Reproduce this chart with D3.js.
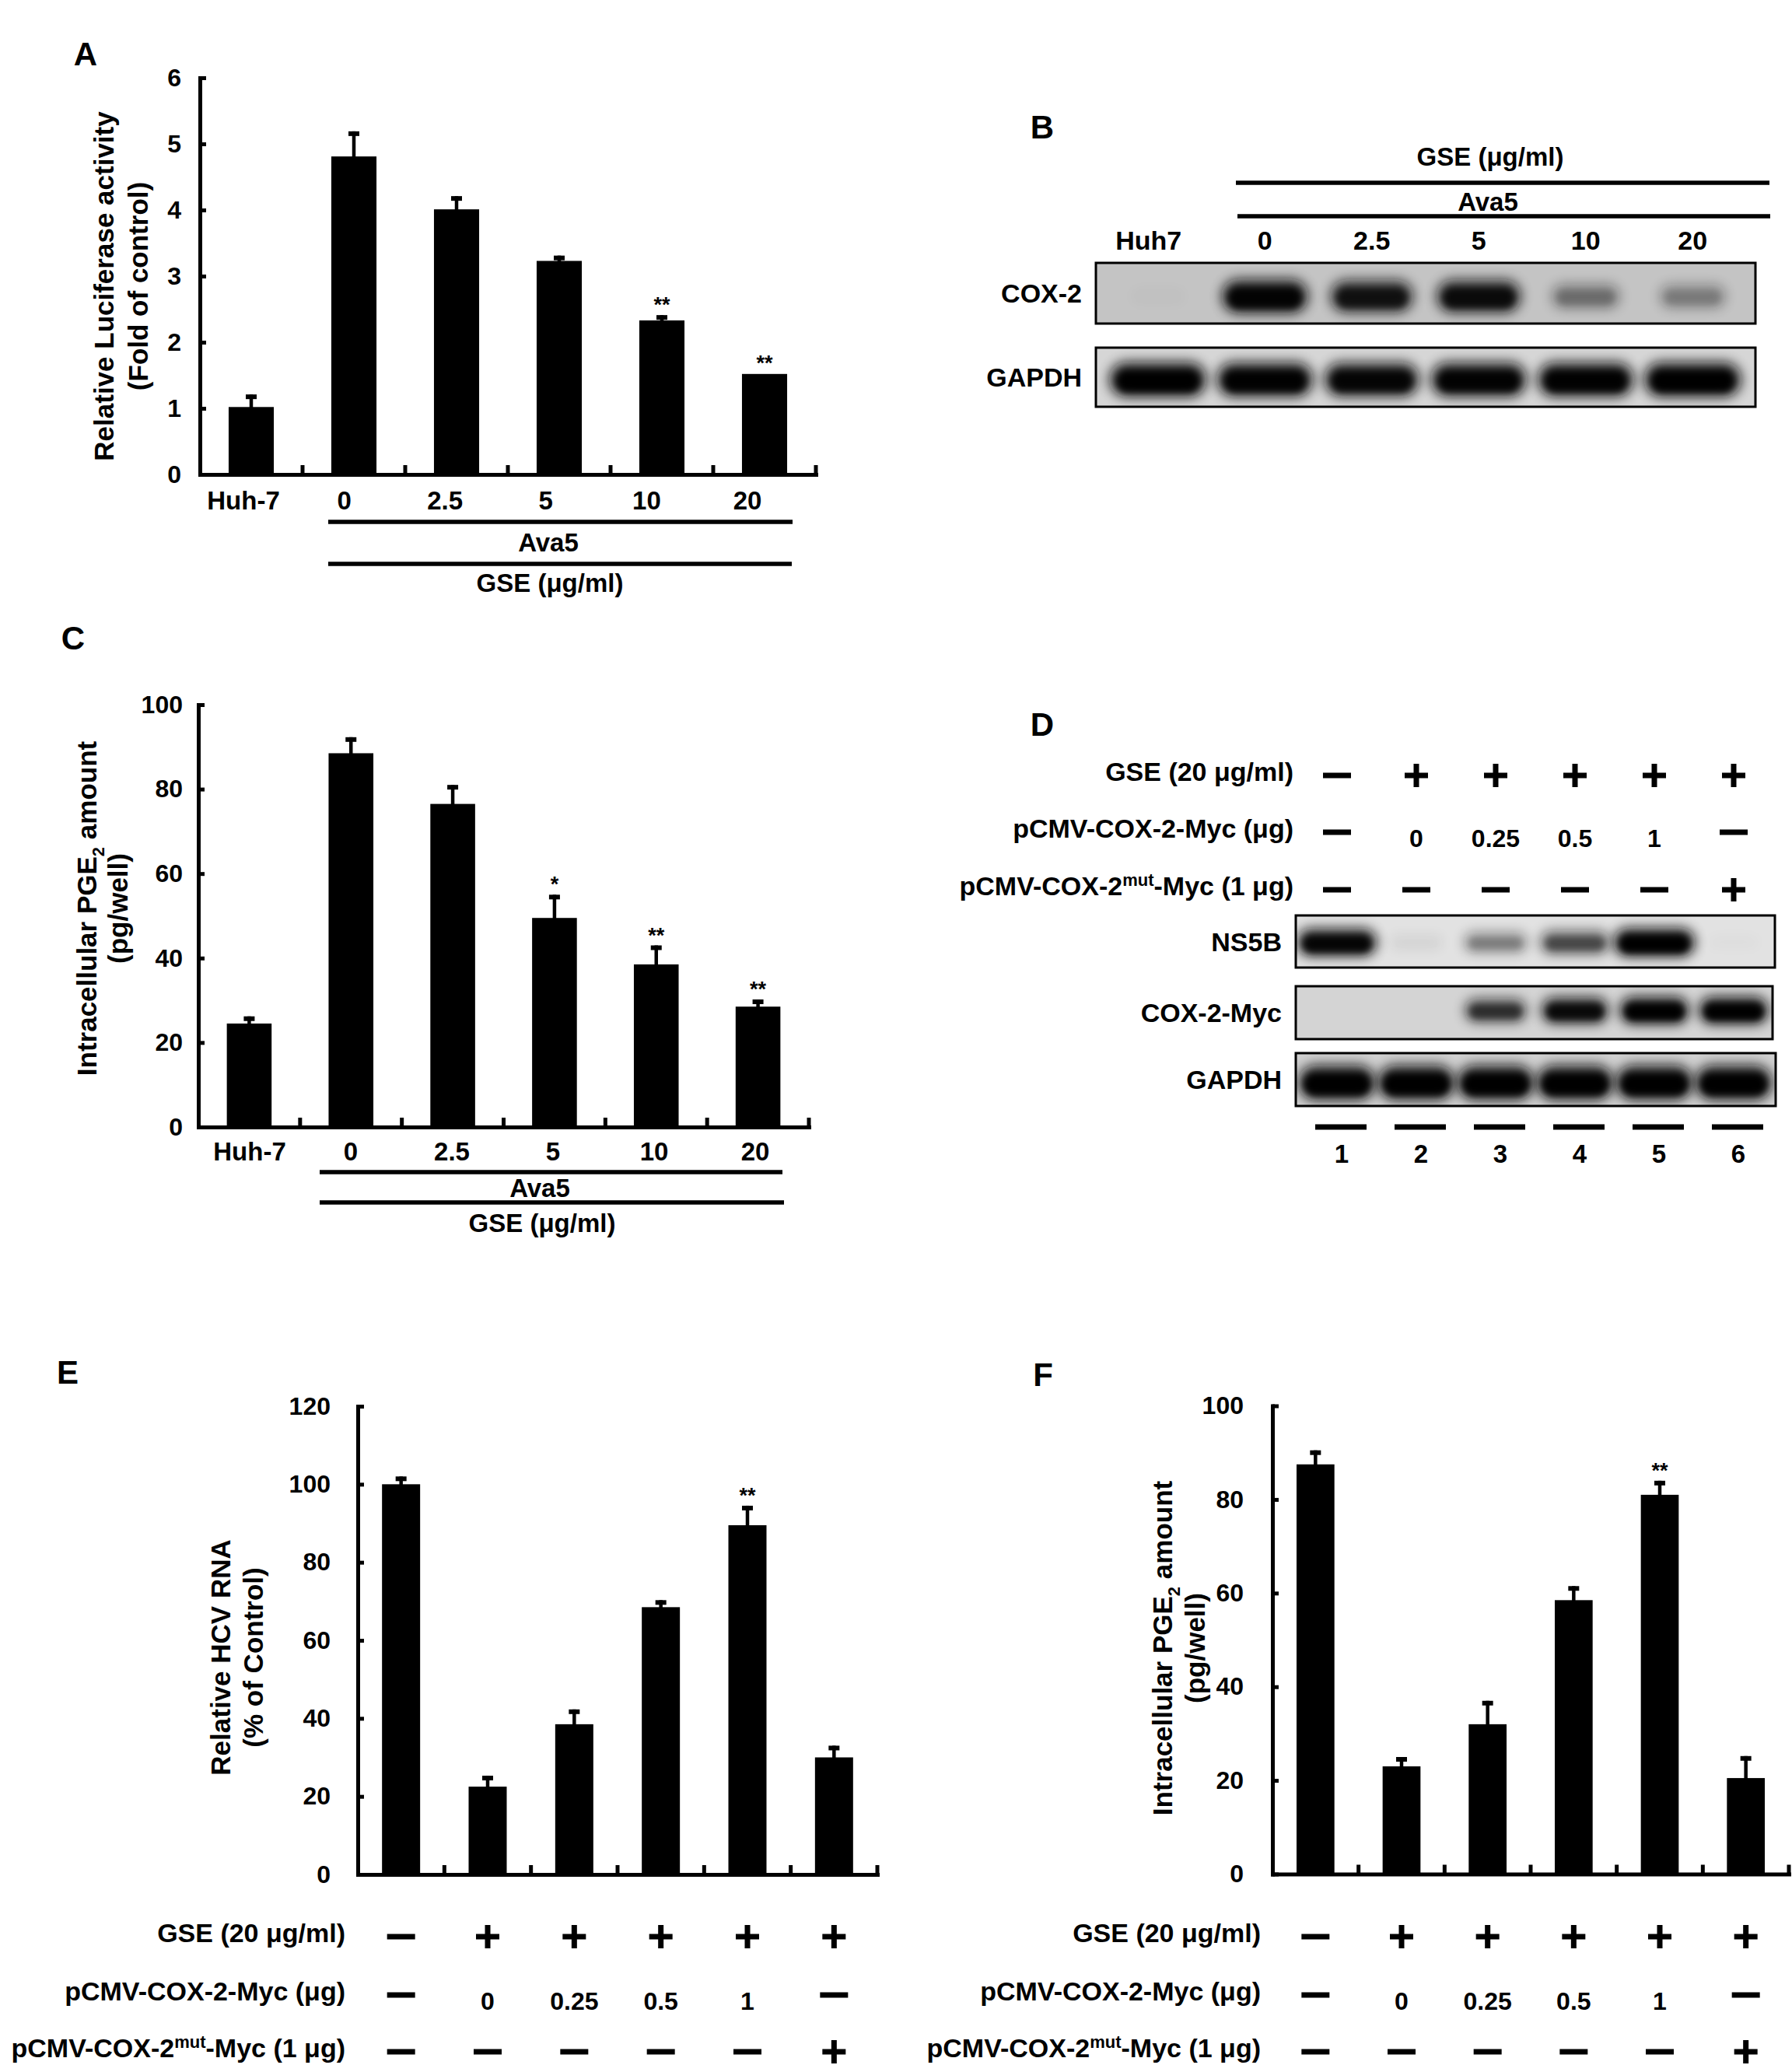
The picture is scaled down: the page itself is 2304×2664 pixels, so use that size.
<!DOCTYPE html>
<html>
<head>
<meta charset="utf-8">
<script src="https://cdn.jsdelivr.net/npm/d3@7"></script>
<style>
body{margin:0;background:#fff;}
svg text{font-family:"Liberation Sans",Arial,Helvetica,sans-serif;font-weight:bold;fill:#000;}
</style>
</head>
<body>
<div id="idFigure"></div>
<script>
// panel A / C categories
var aDoseCats=["Huh-7","0","2.5","5","10","20"];

var aLucMean=[1.02,4.81,4.01,3.23,2.33,1.52];
var aLucErr=[0.19,0.38,0.20,0.08,0.08,0.01];
var aLucSig=["","","","","**","**"];
var aLucTicks=[0,1,2,3,4,5,6];

var aPgeMean=[24.5,88.5,76.5,49.5,38.5,28.5];
var aPgeErr=[1.7,3.8,4.5,5.5,4.5,1.7];
var aPgeSig=["","","","*","**","**"];
var aPgeTicks=[0,20,40,60,80,100];

// panel E / F lanes
var aRescueCats=["1","2","3","4","5","6"];

var aHcvMean=[100,22.5,38.5,68.5,89.5,30];
var aHcvErr=[2,2.8,3.8,1.8,5,3];
var aHcvSig=["","","","","**",""];
var aHcvTicks=[0,20,40,60,80,100,120];

var aRescuePgeMean=[87.5,23,32,58.5,81,20.5];
var aRescuePgeErr=[3,2,5,3,3,4.7];
var aRescuePgeSig=["","","","","**",""];
var aRescuePgeTicks=[0,20,40,60,80,100];

// treatment rows (D, E, F)
var aGseRow=["-","+","+","+","+","+"];
var aCoxRow=["-","0","0.25","0.5","1","-"];
var aMutRow=["-","-","-","-","-","+"];
var aRowLabels=[
	[{s:"GSE (20 μg/ml)"}],
	[{s:"pCMV-COX-2-Myc (μg)"}],
	[{s:"pCMV-COX-2"},{s:"mut",sup:true},{s:"-Myc (1 μg)"}]
];

// blots, band intensity 0..1
var aBlotBLanes=["Huh7","0","2.5","5","10","20"];
var aBlotBCox2=[0.02,0.96,0.86,0.9,0.42,0.36];
var aBlotBGapdh=[1,0.98,0.95,0.97,0.98,1];

var aBlotDLanes=["1","2","3","4","5","6"];
var aBlotDNs5b=[0.95,0.07,0.42,0.62,1,0.02];
var aBlotDCoxMyc=[0,0,0.72,0.92,1,1];
var aBlotDGapdh=[1,1,1,1,1,1];

var iWidth=2304;
var iHeight=2664;

var myCanvas=d3.select("#idFigure").append("svg")
	.attr("width",iWidth)
	.attr("height",iHeight);
var myDefs=myCanvas.append("defs");

myDefs.append("filter").attr("id","idBandBlur")
	.attr("x","-40%").attr("y","-80%").attr("width","180%").attr("height","260%")
	.append("feGaussianBlur").attr("stdDeviation",7.5);
myDefs.append("filter").attr("id","idCoreBlur")
	.attr("x","-40%").attr("y","-80%").attr("width","180%").attr("height","260%")
	.append("feGaussianBlur").attr("stdDeviation",4);

function AppendSegments(myText,aSegs,iSize)
{
	var iShift=0;
	aSegs.forEach(function(oSeg){
		var myT=myText.append("tspan").text(oSeg.s);
		var iTarget=0;
		if(oSeg.sub) iTarget=Math.round(iSize*0.28);
		if(oSeg.sup) iTarget=-Math.round(iSize*0.34);
		if(iTarget!=iShift) myT.attr("dy",iTarget-iShift);
		if(oSeg.sub||oSeg.sup) myT.attr("font-size",Math.round(iSize*0.64));
		iShift=iTarget;
	});
}

function DrawPanelLetter(sLetter,x,y)
{
	myCanvas.append("text")
		.attr("x",x).attr("y",y)
		.attr("text-anchor","middle")
		.attr("font-size",42)
		.text(sLetter);
}

function DrawYTitle(myPanel,aLines,aBaseX,iCenterY)
{
	aLines.forEach(function(aSegs,i){
		var myText=myPanel.append("text")
			.attr("transform","translate("+aBaseX[i]+","+iCenterY+") rotate(-90)")
			.attr("text-anchor","middle")
			.attr("font-size",35);
		AppendSegments(myText,aSegs,35);
	});
}

function DrawBarPanel(oCfg)
{
	var myPanel=myCanvas.append("g").attr("class","BarPanel");

	var xAxes=d3.scaleBand().domain(oCfg.aCats).range([oCfg.iLeft,oCfg.iRight]);
	var yAxes=d3.scaleLinear().domain([0,oCfg.fMax]).range([oCfg.iBottom,oCfg.iTop]);
	var iBarWidth=xAxes.bandwidth()*0.44;

	var myRows=oCfg.aCats.map(function(sCat,i){
		return {sCat:sCat,fMean:oCfg.aMean[i],fErr:oCfg.aErr[i],sSig:oCfg.aSig[i]};
	});

	var myYAxis=myPanel.append("g")
		.attr("transform","translate("+oCfg.iLeft+",0)")
		.call(d3.axisLeft(yAxes).tickValues(oCfg.aTicks).tickFormat(d3.format("d"))
			.tickSizeInner(-8).tickSizeOuter(0).tickPadding(oCfg.iTickPad));
	myYAxis.attr("font-size",32).attr("font-family",null);
	myYAxis.selectAll(".tick line").attr("stroke-width",5);
	myYAxis.select(".domain").attr("stroke-width",5).attr("stroke-linecap","square");

	var myXAxis=myPanel.append("g")
		.attr("transform","translate(0,"+oCfg.iBottom+")")
		.call(d3.axisBottom(xAxes).tickValues([]).tickSizeOuter(0));
	myXAxis.select(".domain").attr("stroke-width",5).attr("stroke-linecap","square");

	// small ticks between the groups
	myPanel.selectAll(".BarPanelTicks")
		.data(myRows).enter().append("line")
		.attr("class","BarPanelTicks")
		.attr("x1",function(myNode){return xAxes(myNode.sCat)+xAxes.bandwidth();})
		.attr("x2",function(myNode){return xAxes(myNode.sCat)+xAxes.bandwidth();})
		.attr("y1",oCfg.iBottom)
		.attr("y2",oCfg.iBottom-12)
		.attr("stroke","#000")
		.attr("stroke-width",5);

	myPanel.selectAll(".BarPanelBars")
		.data(myRows).enter().append("rect")
		.attr("class","BarPanelBars")
		.attr("x",function(myNode){return xAxes(myNode.sCat)+(xAxes.bandwidth()-iBarWidth)/2;})
		.attr("y",function(myNode){return yAxes(myNode.fMean);})
		.attr("width",iBarWidth)
		.attr("height",function(myNode){return yAxes(0)-yAxes(myNode.fMean);})
		.attr("fill","#000");

	var myErrRows=myRows.filter(function(myNode){return myNode.fErr>0.02;});
	myPanel.selectAll(".BarPanelErr")
		.data(myErrRows).enter().append("line")
		.attr("class","BarPanelErr")
		.attr("x1",function(myNode){return xAxes(myNode.sCat)+xAxes.bandwidth()/2;})
		.attr("x2",function(myNode){return xAxes(myNode.sCat)+xAxes.bandwidth()/2;})
		.attr("y1",function(myNode){return yAxes(myNode.fMean)+1;})
		.attr("y2",function(myNode){return yAxes(myNode.fMean+myNode.fErr);})
		.attr("stroke","#000")
		.attr("stroke-width",4.5);
	myPanel.selectAll(".BarPanelErrCap")
		.data(myErrRows).enter().append("rect")
		.attr("class","BarPanelErrCap")
		.attr("x",function(myNode){return xAxes(myNode.sCat)+xAxes.bandwidth()/2-7;})
		.attr("y",function(myNode){return yAxes(myNode.fMean+myNode.fErr);})
		.attr("width",14)
		.attr("height",6)
		.attr("fill","#000");

	myPanel.selectAll(".BarPanelSig")
		.data(myRows.filter(function(myNode){return myNode.sSig!="";})).enter().append("text")
		.attr("class","BarPanelSig")
		.attr("x",function(myNode){return xAxes(myNode.sCat)+xAxes.bandwidth()/2;})
		.attr("y",function(myNode){return yAxes(myNode.fMean+myNode.fErr)-4;})
		.attr("text-anchor","middle")
		.attr("font-size",27)
		.text(function(myNode){return myNode.sSig;});

	if(oCfg.aLabelRange)
	{
		var xLabels=d3.scalePoint().domain(oCfg.aCats).range(oCfg.aLabelRange);
		myPanel.selectAll(".BarPanelLabels")
			.data(myRows).enter().append("text")
			.attr("class","BarPanelLabels")
			.attr("x",function(myNode){return xLabels(myNode.sCat);})
			.attr("y",oCfg.iLabelY)
			.attr("text-anchor","middle")
			.attr("font-size",33)
			.text(function(myNode){return myNode.sCat;});
	}

	DrawYTitle(myPanel,oCfg.aTitle,oCfg.aTitleX,oCfg.iTitleY);

	return {panel:myPanel,x:xAxes,y:yAxes};
}

function DrawGroupLines(oCfg)
{
	var myPanel=myCanvas.append("g");
	oCfg.aLines.forEach(function(oLine){
		myPanel.append("line")
			.attr("x1",oLine.x1).attr("x2",oLine.x2)
			.attr("y1",oLine.y).attr("y2",oLine.y)
			.attr("stroke","#000").attr("stroke-width",5.5);
	});
	oCfg.aTexts.forEach(function(oText){
		myPanel.append("text")
			.attr("x",oText.x).attr("y",oText.y)
			.attr("text-anchor","middle")
			.attr("font-size",33)
			.text(oText.s);
	});
}

function DrawTreatmentRows(fnX,aLaneKeys,iLabelRight,aBaselines)
{
	var myPanel=myCanvas.append("g");
	var aRowValues=[aGseRow,aCoxRow,aMutRow];
	aRowLabels.forEach(function(aSegs,r){
		var iBase=aBaselines[r];
		var myText=myPanel.append("text")
			.attr("x",iLabelRight).attr("y",iBase)
			.attr("text-anchor","end")
			.attr("font-size",34);
		AppendSegments(myText,aSegs,34);

		var myCells=aRowValues[r].map(function(sVal,i){return {sVal:sVal,x:fnX(aLaneKeys[i])};});
		var yMid=iBase-7;
		myPanel.selectAll(".RowMinus"+r)
			.data(myCells.filter(function(c){return c.sVal=="-"||c.sVal=="+";})).enter().append("rect")
			.attr("x",function(c){return c.sVal=="-"?c.x-18:c.x-15;})
			.attr("y",yMid-3.5)
			.attr("width",function(c){return c.sVal=="-"?36:30;})
			.attr("height",7)
			.attr("fill","#000");
		myPanel.selectAll(".RowPlus"+r)
			.data(myCells.filter(function(c){return c.sVal=="+";})).enter().append("rect")
			.attr("x",function(c){return c.x-3.5;})
			.attr("y",yMid-15)
			.attr("width",7)
			.attr("height",30)
			.attr("fill","#000");
		myPanel.selectAll(".RowNum"+r)
			.data(myCells.filter(function(c){return c.sVal!="-"&&c.sVal!="+";})).enter().append("text")
			.attr("x",function(c){return c.x;})
			.attr("y",iBase+12)
			.attr("text-anchor","middle")
			.attr("font-size",32)
			.text(function(c){return c.sVal;});
	});
}

function DrawBlot(oCfg)
{
	var myBlot=myCanvas.append("g");
	var sClip="idClip"+oCfg.sID;
	myDefs.append("clipPath").attr("id",sClip).append("rect")
		.attr("x",oCfg.x0).attr("y",oCfg.y0)
		.attr("width",oCfg.x1-oCfg.x0).attr("height",oCfg.y1-oCfg.y0);

	myBlot.append("rect")
		.attr("x",oCfg.x0).attr("y",oCfg.y0)
		.attr("width",oCfg.x1-oCfg.x0).attr("height",oCfg.y1-oCfg.y0)
		.attr("fill",oCfg.sFill);

	var xLanes=d3.scaleBand().domain(oCfg.aLanes).range(oCfg.aLaneRange);
	var yBand=(oCfg.y0+oCfg.y1)/2+oCfg.iBandOffset;
	var myRows=oCfg.aLanes.map(function(sLane,i){return {sLane:sLane,fVal:oCfg.aIntens[i]};})
		.filter(function(myNode){return myNode.fVal>0.01;});

	var myBands=myBlot.append("g").attr("clip-path","url(#"+sClip+")");
	function BandW(myNode,fScale){return oCfg.fBandW*(0.62+0.38*myNode.fVal)*fScale;}
	function BandH(myNode,fScale){return oCfg.fBandH*(0.5+0.5*myNode.fVal)*fScale;}

	myBands.selectAll(".BlotOuter")
		.data(myRows).enter().append("rect")
		.attr("class","BlotOuter")
		.attr("x",function(myNode){return xLanes(myNode.sLane)+xLanes.bandwidth()/2-BandW(myNode,1)/2;})
		.attr("y",function(myNode){return yBand-BandH(myNode,1)/2;})
		.attr("width",function(myNode){return BandW(myNode,1);})
		.attr("height",function(myNode){return BandH(myNode,1);})
		.attr("rx",function(myNode){return BandH(myNode,1)/2;})
		.attr("fill","#111")
		.attr("opacity",function(myNode){return Math.min(1,myNode.fVal*0.85);})
		.attr("filter","url(#idBandBlur)");

	myBands.selectAll(".BlotCore")
		.data(myRows).enter().append("rect")
		.attr("class","BlotCore")
		.attr("x",function(myNode){return xLanes(myNode.sLane)+xLanes.bandwidth()/2-BandW(myNode,0.84)/2;})
		.attr("y",function(myNode){return yBand-BandH(myNode,0.6)/2+2;})
		.attr("width",function(myNode){return BandW(myNode,0.84);})
		.attr("height",function(myNode){return BandH(myNode,0.6);})
		.attr("rx",function(myNode){return BandH(myNode,0.6)/2;})
		.attr("fill","#000")
		.attr("opacity",function(myNode){return myNode.fVal*myNode.fVal;})
		.attr("filter","url(#idCoreBlur)");

	myBlot.append("rect")
		.attr("x",oCfg.x0).attr("y",oCfg.y0)
		.attr("width",oCfg.x1-oCfg.x0).attr("height",oCfg.y1-oCfg.y0)
		.attr("fill","none")
		.attr("stroke","#000")
		.attr("stroke-width",3);

	myBlot.append("text")
		.attr("x",oCfg.x0-18)
		.attr("y",(oCfg.y0+oCfg.y1)/2+12)
		.attr("text-anchor","end")
		.attr("font-size",34)
		.text(oCfg.sLabel);

	return xLanes;
}

// ---- A ----
DrawPanelLetter("A",110,84);
DrawBarPanel({
	aCats:aDoseCats,aMean:aLucMean,aErr:aLucErr,aSig:aLucSig,aTicks:aLucTicks,fMax:6,
	iLeft:257,iRight:1049,iTop:100,iBottom:610,iTickPad:24,
	aLabelRange:[313,961],iLabelY:655,
	aTitle:[[{s:"Relative Luciferase activity"}],[{s:"(Fold of control)"}]],
	aTitleX:[146,190],iTitleY:368
});
DrawGroupLines({
	aLines:[{x1:422,x2:1019,y:671},{x1:422,x2:1018,y:725}],
	aTexts:[{s:"Ava5",x:705,y:709},{s:"GSE (μg/ml)",x:707,y:761}]
});

// ---- C ----
DrawPanelLetter("C",94,835);
DrawBarPanel({
	aCats:aDoseCats,aMean:aPgeMean,aErr:aPgeErr,aSig:aPgeSig,aTicks:aPgeTicks,fMax:100,
	iLeft:255,iRight:1040,iTop:906,iBottom:1449,iTickPad:20,
	aLabelRange:[321,971],iLabelY:1492,
	aTitle:[[{s:"Intracellular PGE"},{s:"2",sub:true},{s:" amount"}],[{s:"(pg/well)"}]],
	aTitleX:[124,164],iTitleY:1168
});
DrawGroupLines({
	aLines:[{x1:411,x2:1006,y:1507},{x1:411,x2:1008,y:1546}],
	aTexts:[{s:"Ava5",x:694,y:1539},{s:"GSE (μg/ml)",x:697,y:1584}]
});

// ---- B ----
DrawPanelLetter("B",1340,178);
var xLanesB=DrawBlot({sID:"BCox2",x0:1409,x1:2257,y0:338,y1:416,sFill:"#c4c4c4",
	aLanes:aBlotBLanes,aIntens:aBlotBCox2,aLaneRange:[1420,2245],fBandW:114,fBandH:46,iBandOffset:4,sLabel:"COX-2"});
DrawBlot({sID:"BGapdh",x0:1409,x1:2257,y0:447,y1:523,sFill:"#d6d6d6",
	aLanes:aBlotBLanes,aIntens:aBlotBGapdh,aLaneRange:[1420,2245],fBandW:126,fBandH:46,iBandOffset:3,sLabel:"GAPDH"});
DrawGroupLines({
	aLines:[{x1:1589,x2:2275,y:235},{x1:1591,x2:2276,y:278}],
	aTexts:[{s:"GSE (μg/ml)",x:1916,y:213},{s:"Ava5",x:1913,y:271}]
});
myCanvas.append("g").selectAll("text")
	.data(aBlotBLanes).enter().append("text")
	.attr("x",function(sLane,i){return xLanesB(sLane)+xLanesB.bandwidth()/2-(i==0?12:0);})
	.attr("y",321)
	.attr("text-anchor","middle")
	.attr("font-size",34)
	.text(function(sLane){return sLane;});

// ---- D ----
DrawPanelLetter("D",1340,946);
var xLanesD=DrawBlot({sID:"DNs5b",x0:1666,x1:2282,y0:1177,y1:1244,sFill:"#e2e2e2",
	aLanes:aBlotDLanes,aIntens:aBlotDNs5b,aLaneRange:[1668,2280],fBandW:106,fBandH:38,iBandOffset:1,sLabel:"NS5B"});
DrawBlot({sID:"DCoxMyc",x0:1666,x1:2279,y0:1268,y1:1336,sFill:"#d4d4d4",
	aLanes:aBlotDLanes,aIntens:aBlotDCoxMyc,aLaneRange:[1668,2280],fBandW:90,fBandH:36,iBandOffset:-3,sLabel:"COX-2-Myc"});
DrawBlot({sID:"DGapdh",x0:1666,x1:2283,y0:1354,y1:1422,sFill:"#d0d0d0",
	aLanes:aBlotDLanes,aIntens:aBlotDGapdh,aLaneRange:[1668,2280],fBandW:100,fBandH:46,iBandOffset:4,sLabel:"GAPDH"});
DrawTreatmentRows(function(sLane){return xLanesD(sLane)+xLanesD.bandwidth()/2;},aBlotDLanes,1663,[1004,1077,1151]);

var myLaneMarks=myCanvas.append("g");
myLaneMarks.selectAll("rect")
	.data(aBlotDLanes).enter().append("rect")
	.attr("x",function(sLane){return xLanesD(sLane)+xLanesD.bandwidth()/2-28;})
	.attr("y",1445.5)
	.attr("width",66)
	.attr("height",7)
	.attr("fill","#000");
myLaneMarks.selectAll("text")
	.data(aBlotDLanes).enter().append("text")
	.attr("x",function(sLane){return xLanesD(sLane)+xLanesD.bandwidth()/2+6;})
	.attr("y",1495)
	.attr("text-anchor","middle")
	.attr("font-size",33)
	.text(function(sLane){return sLane;});

// ---- E ----
DrawPanelLetter("E",87,1779);
var oPanelE=DrawBarPanel({
	aCats:aRescueCats,aMean:aHcvMean,aErr:aHcvErr,aSig:aHcvSig,aTicks:aHcvTicks,fMax:120,
	iLeft:460,iRight:1128,iTop:1808,iBottom:2410,iTickPad:35,
	aTitle:[[{s:"Relative HCV RNA"}],[{s:"(% of Control)"}]],
	aTitleX:[296,338],iTitleY:2131
});
DrawTreatmentRows(function(sCat){return oPanelE.x(sCat)+oPanelE.x.bandwidth()/2;},aRescueCats,444,[2497,2572,2645]);

// ---- F ----
DrawPanelLetter("F",1341,1782);
var oPanelF=DrawBarPanel({
	aCats:aRescueCats,aMean:aRescuePgeMean,aErr:aRescuePgeErr,aSig:aRescuePgeSig,aTicks:aRescuePgeTicks,fMax:100,
	iLeft:1636,iRight:2300,iTop:1807.5,iBottom:2409.5,iTickPad:37,
	aTitle:[[{s:"Intracellular PGE"},{s:"2",sub:true},{s:" amount"}],[{s:"(pg/well)"}]],
	aTitleX:[1507,1549],iTitleY:2119
});
DrawTreatmentRows(function(sCat){return oPanelF.x(sCat)+oPanelF.x.bandwidth()/2;},aRescueCats,1621,[2497,2572,2645]);
</script>
</body>
</html>
